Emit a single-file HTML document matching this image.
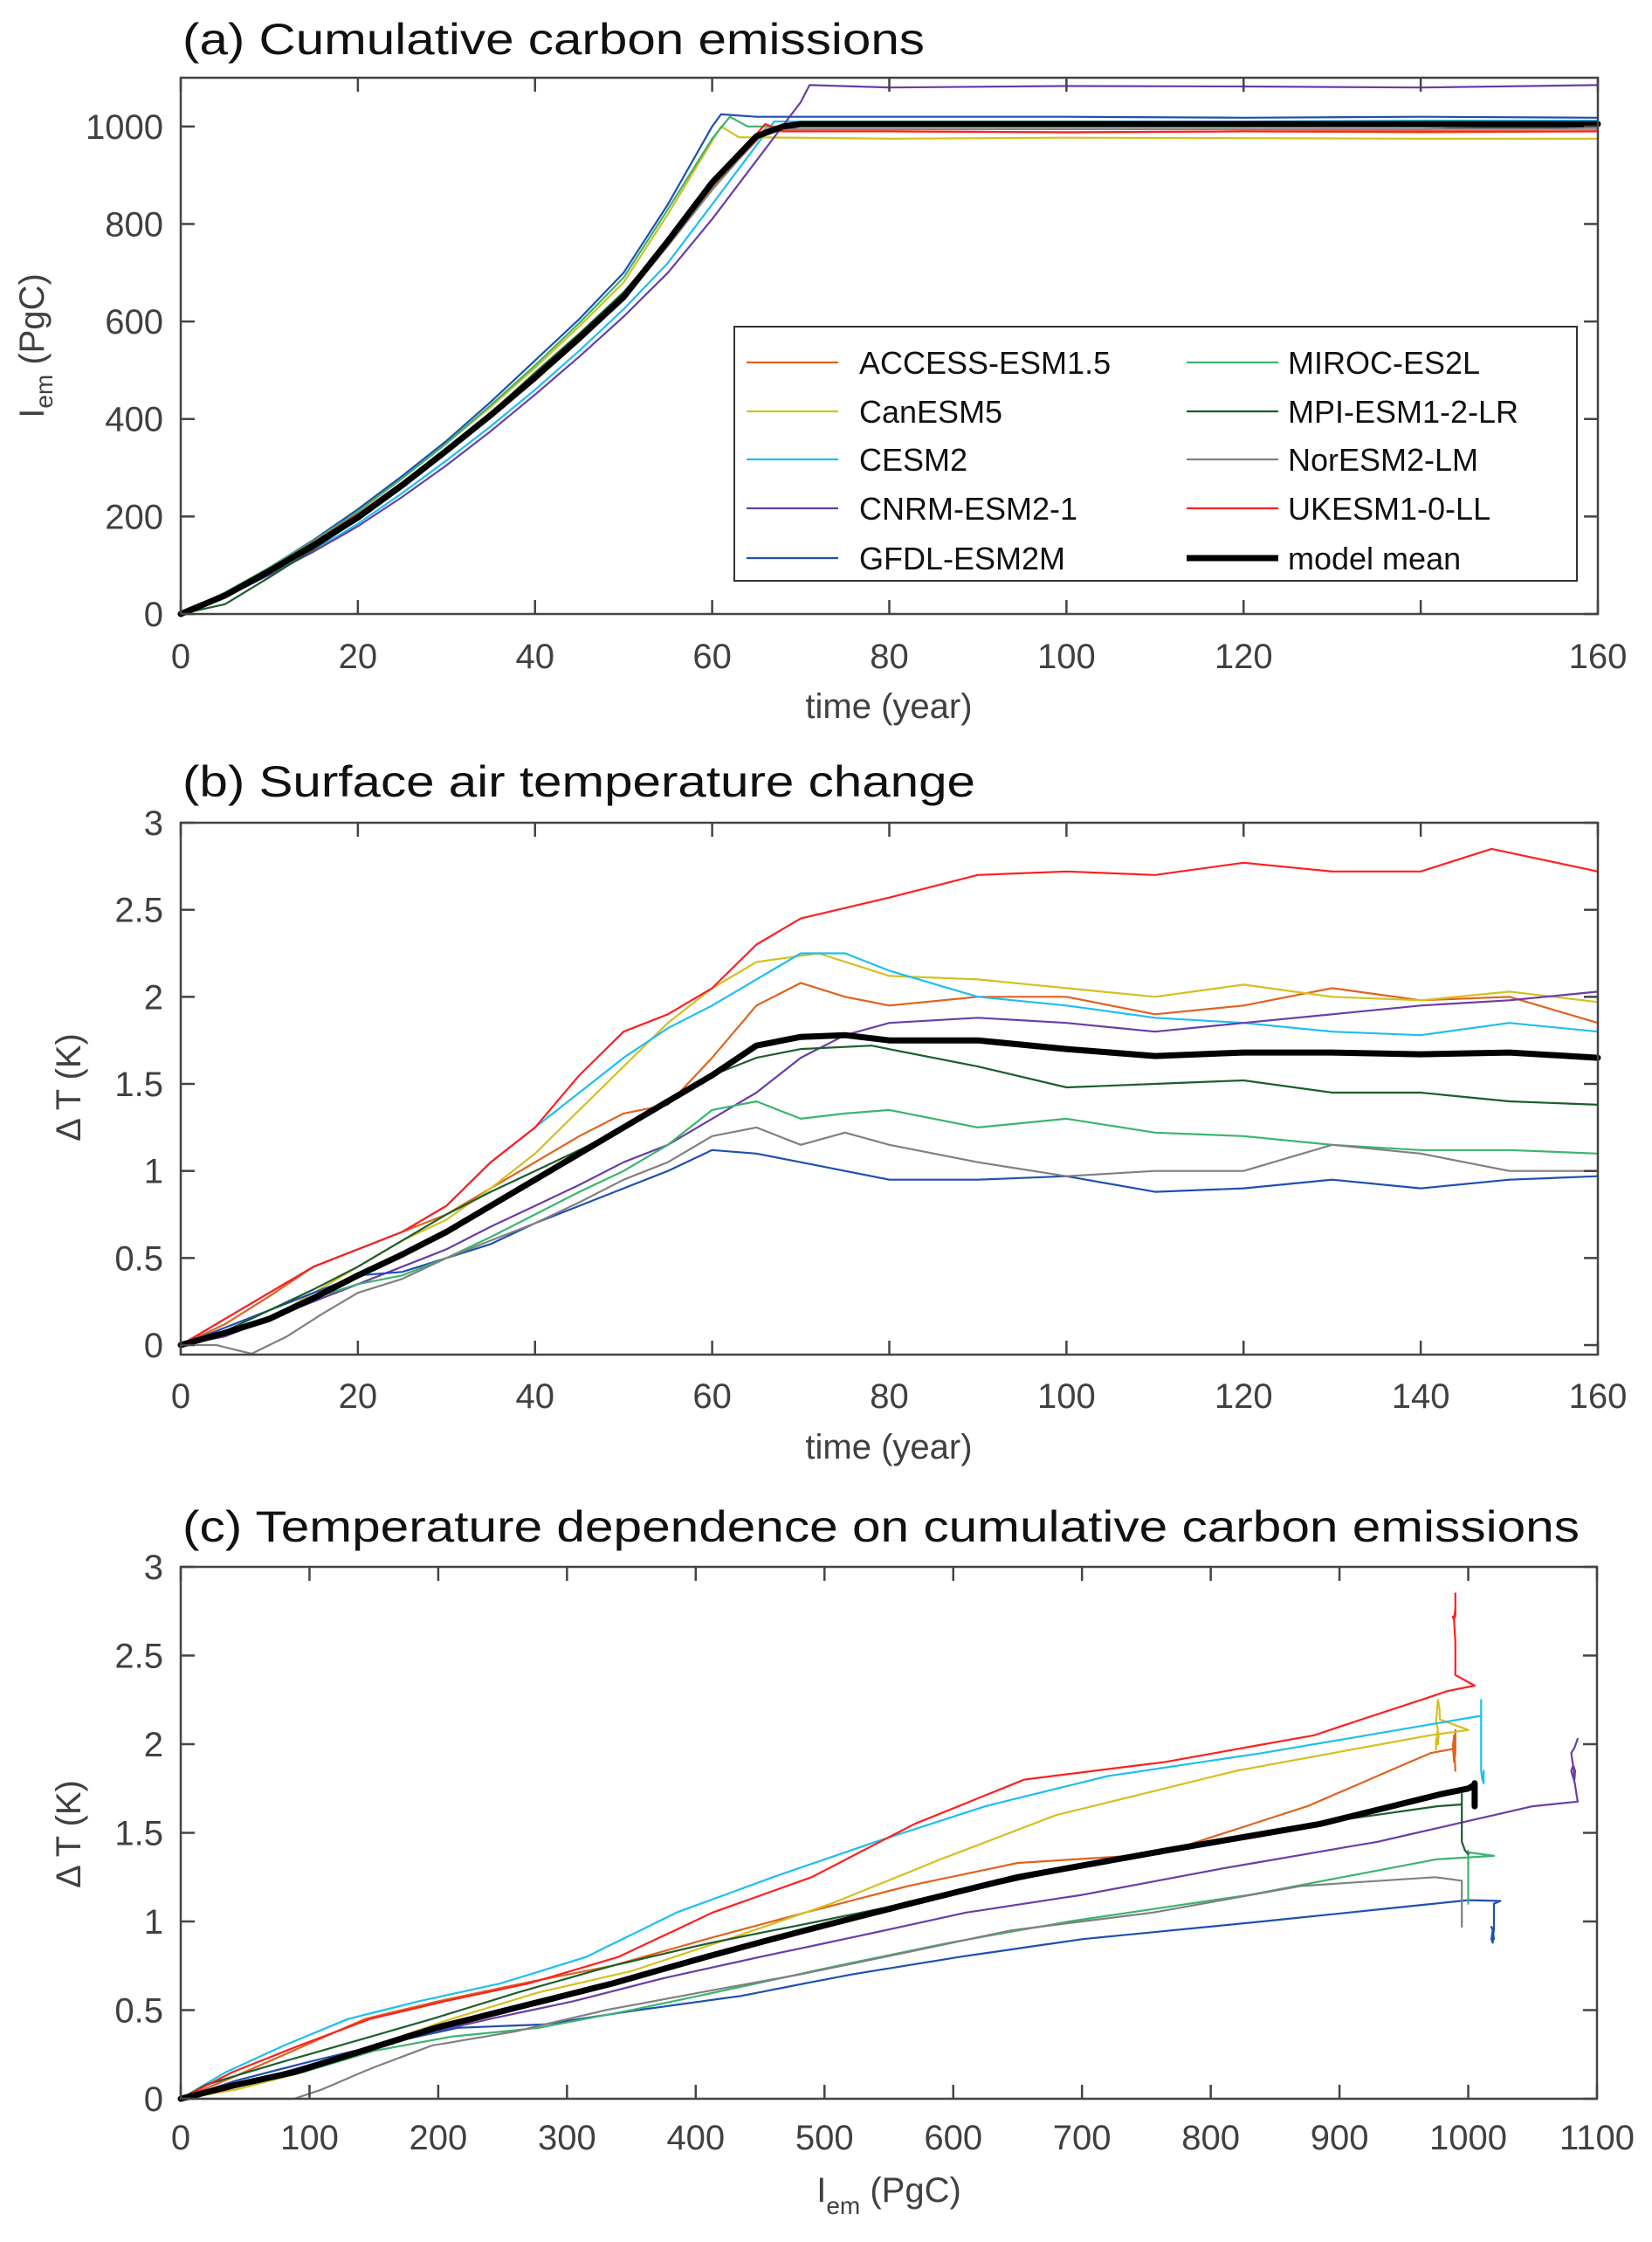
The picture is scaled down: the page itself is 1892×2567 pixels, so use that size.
<!DOCTYPE html>
<html><head><meta charset="utf-8"><style>
html,body{margin:0;padding:0;background:#fff;}
svg{display:block;font-family:"Liberation Sans",sans-serif;}
</style></head><body>
<svg id="fig" width="1892" height="2567" viewBox="0 0 1892 2567" xmlns="http://www.w3.org/2000/svg"></svg>
<script>
const modelNames = ["ACCESS-ESM1.5","CanESM5","CESM2","CNRM-ESM2-1","GFDL-ESM2M","MIROC-ES2L","MPI-ESM1-2-LR","NorESM2-LM","UKESM1-0-LL","model mean"];
const modelColors = ["#e0621e","#d4c020","#1ebef0","#6a3da8","#1f4fb0","#3cb46e","#1b5e2b","#808080","#ff1f1f","#000000"];

// Panel (a): cumulative emissions (PgC)
const emYears = [
 [0,5,10,15,20,25,30,35,40,45,50,55,60,66,80,100,120,140,160],
 [0,5,10,15,20,25,30,35,40,45,50,55,60,61,63,80,100,120,140,160],
 [0,5,10,15,20,25,30,35,40,45,50,55,60,67,80,100,120,140,160],
 [0,5,10,15,20,25,30,35,40,45,50,55,60,65,70,71,80,100,120,140,160],
 [0,5,10,15,20,25,30,35,40,45,50,55,60,61,65,80,100,120,140,160],
 [0,5,10,15,20,25,30,35,40,45,50,55,60,62,64,80,100,120,140,160],
 [0,5,10,15,20,25,30,35,40,45,50,55,60,66,80,100,120,140,160],
 [0,5,10,15,20,25,30,35,40,45,50,55,60,66,80,100,120,140,160],
 [0,5,10,15,20,25,30,35,40,45,50,55,60,66,68,80,100,120,140,160],
 [0,5,10,15,20,25,30,35,40,45,50,55,60,65,68,70,80,160]
];
const emValues = [
 [0,40,90,143,200,265,335,408,485,565,650,760,875,990,990,988,990,988,990],
 [0,42,95,150,210,278,350,425,505,590,680,820,970,1000,978,975,977,976,975,975],
 [0,35,80,130,185,248,315,385,460,540,625,720,840,1010,1010,1010,1010,1012,1012],
 [0,35,80,128,180,240,305,375,450,528,610,700,810,930,1050,1085,1080,1083,1082,1080,1085],
 [0,42,95,152,215,283,355,435,520,605,700,840,1000,1025,1020,1020,1020,1018,1020,1018],
 [0,44,95,150,210,278,350,428,510,597,690,830,975,1020,1000,1000,1000,1000,1000,1000],
 [0,20,75,133,195,262,335,412,495,575,660,765,880,995,995,995,995,995,1000],
 [0,38,88,140,195,260,330,404,480,560,645,755,870,995,995,995,995,995,995],
 [0,40,92,147,205,270,340,413,490,570,655,765,880,1005,990,990,988,990,990,990],
 [0,38,88,141,198,264,335,408,485,566,650,765,885,980,1000,1005,1005,1005]
];

// Panel (b): temperature change (K)
const tYears = [
 [0,5,10,15,20,25,30,35,40,45,50,55,60,65,70,75,80,90,100,110,120,130,140,150,160],
 [0,5,10,15,20,25,30,35,40,45,50,55,60,65,72,80,90,100,110,120,130,140,150,160],
 [0,5,10,15,20,25,30,35,40,45,50,55,60,65,70,75,80,90,100,110,120,130,140,150,160],
 [0,5,10,15,20,25,30,35,40,45,50,55,60,65,70,75,80,90,100,110,120,130,140,150,160],
 [0,5,10,15,20,25,30,35,40,45,50,55,60,65,70,75,80,90,100,110,120,130,140,150,160],
 [0,5,10,15,20,25,30,35,40,45,50,55,60,65,70,75,80,90,100,110,120,130,140,150,160],
 [0,5,10,15,20,25,30,35,40,45,50,55,60,65,70,78,90,100,110,120,130,140,150,160],
 [0,4,8,12,16,20,25,30,35,40,45,50,55,60,65,70,75,80,90,100,110,120,130,140,150,160],
 [0,5,10,15,20,25,30,35,40,45,50,55,60,65,70,80,90,100,110,120,130,140,148,160],
 [0,5,10,15,20,25,30,35,40,45,50,55,60,65,70,75,80,90,100,110,120,130,140,150,160]
];
const tValues = [
 [0,0.12,0.28,0.45,0.55,0.65,0.75,0.9,1.05,1.2,1.33,1.38,1.65,1.95,2.08,2.0,1.95,2.0,2.0,1.9,1.95,2.05,1.98,2.0,1.85],
 [0,0.05,0.15,0.3,0.45,0.6,0.72,0.9,1.1,1.35,1.6,1.85,2.05,2.2,2.25,2.12,2.1,2.05,2.0,2.07,2.0,1.98,2.03,1.97],
 [0,0.15,0.3,0.45,0.55,0.65,0.8,1.05,1.25,1.45,1.65,1.82,1.95,2.1,2.25,2.25,2.15,2.0,1.95,1.88,1.85,1.8,1.78,1.85,1.8],
 [0,0.05,0.15,0.25,0.35,0.45,0.55,0.68,0.8,0.92,1.05,1.15,1.3,1.45,1.65,1.78,1.85,1.88,1.85,1.8,1.85,1.9,1.95,1.98,2.03],
 [0,0.1,0.2,0.3,0.4,0.42,0.5,0.58,0.7,0.8,0.9,1.0,1.12,1.1,1.05,1.0,0.95,0.95,0.97,0.88,0.9,0.95,0.9,0.95,0.97],
 [0,0.08,0.15,0.27,0.35,0.4,0.5,0.62,0.75,0.88,1.0,1.15,1.35,1.4,1.3,1.33,1.35,1.25,1.3,1.22,1.2,1.15,1.12,1.12,1.1],
 [0,0.08,0.2,0.32,0.45,0.6,0.75,0.88,1.0,1.12,1.25,1.4,1.55,1.65,1.7,1.72,1.6,1.48,1.5,1.52,1.45,1.45,1.4,1.38],
 [0,0.0,-0.05,0.05,0.18,0.3,0.38,0.5,0.6,0.7,0.82,0.95,1.05,1.2,1.25,1.15,1.22,1.15,1.05,0.97,1.0,1.0,1.15,1.1,1.0,1.0],
 [0,0.15,0.3,0.45,0.55,0.65,0.8,1.05,1.25,1.55,1.8,1.9,2.05,2.3,2.45,2.57,2.7,2.72,2.7,2.77,2.72,2.72,2.85,2.72],
 [0,0.07,0.15,0.27,0.4,0.52,0.65,0.8,0.95,1.1,1.25,1.4,1.55,1.72,1.77,1.78,1.75,1.75,1.7,1.66,1.68,1.68,1.67,1.68,1.65]
];

const aTicksX=[0,20,40,60,80,100,120,140,160];
const aTickLabelsX=["0","20","40","60","80","100","120","","160"];
const aTicksY=[0,200,400,600,800,1000];
const bTicksY=[0,0.5,1,1.5,2,2.5,3];
const bTickLabelsY=["0","0.5","1","1.5","2","2.5","3"];
const bTickLabelsX=["0","20","40","60","80","100","120","140","160"];
const cTicksX=[0,100,200,300,400,500,600,700,800,900,1000,1100];

const NS="http://www.w3.org/2000/svg";
const svg=document.getElementById('fig');
function mk(tag,attrs,parent){const e=document.createElementNS(NS,tag);for(const k in attrs)e.setAttribute(k,attrs[k]);(parent||svg).appendChild(e);return e;}
function interp(xs,ys,x){if(x<=xs[0])return ys[0];for(let i=1;i<xs.length;i++){if(x<=xs[i]){const t=(x-xs[i-1])/(xs[i]-xs[i-1]);return ys[i-1]+t*(ys[i]-ys[i-1]);}}return ys[ys.length-1];}

function makeAxes(o){
  const sx=v=>o.L+(v-o.x0)/(o.x1-o.x0)*(o.R-o.L);
  const sy=v=>o.B-(v-o.y0)/(o.y1-o.y0)*(o.B-o.T);
  const g=mk('g',{});
  
  
  const t=mk('text',{x:o.L+2,y:o.titleY,'font-size':50,fill:'#111',textLength:o.titleW,lengthAdjust:'spacingAndGlyphs'},g);
  t.textContent=o.title;
  
  
  return {sx,sy,g};
}
function finishAxes(o,ax){
  const g=ax.g;
  const box=mk('rect',{x:o.L,y:o.T,width:o.R-o.L,height:o.B-o.T,fill:'none',stroke:'#444','stroke-width':2.5},g);
  
  
  o.xt.forEach((v,i)=>{
    const x=ax.sx(v);
    mk('line',{x1:x,x2:x,y1:o.B,y2:o.B-16,stroke:'#444','stroke-width':2.5},g);
    mk('line',{x1:x,x2:x,y1:o.T,y2:o.T+16,stroke:'#444','stroke-width':2.5},g);
    const tl=mk('text',{x:x,y:o.xLabY,'text-anchor':'middle','font-size':40,fill:'#404040'},g);
    tl.textContent=o.xl[i];
    
    
  });
  o.yt.forEach((v,i)=>{
    const y=ax.sy(v);
    mk('line',{x1:o.L,x2:o.L+16,y1:y,y2:y,stroke:'#444','stroke-width':2.5},g);
    mk('line',{x1:o.R,x2:o.R-16,y1:y,y2:y,stroke:'#444','stroke-width':2.5},g);
    const tl=mk('text',{x:o.L-20,y:y+14,'text-anchor':'end','font-size':40,fill:'#404040'},g);
    tl.textContent=o.yl[i];
    
    
  });
}
function line(g,pts,color,w,name){
  const p=mk('polyline',{points:pts.map(q=>q[0].toFixed(1)+','+q[1].toFixed(1)).join(' '),fill:'none',stroke:color,'stroke-width':w,'stroke-linejoin':'round','stroke-linecap':'round'},g);
  
  
}
function xlabel(g,x,y,txt,name){
  const t=mk('text',{x:x,y:y,'text-anchor':'middle','font-size':40,fill:'#404040'},g);
  
  
  t.innerHTML=txt;
}

// Panel a
const oa={name:'panel-a',L:207,R:1830,T:89,B:703,x0:0,x1:160,y0:0,y1:1100,title:'(a) Cumulative carbon emissions',titleY:62,titleW:850,xt:aTicksX,xl:aTickLabelsX,yt:aTicksY,yl:aTicksY.map(String),xLabY:765};
const axA=makeAxes(oa);
for(let m=0;m<10;m++){
  const pts=emYears[m].map((y,i)=>[axA.sx(y),axA.sy(emValues[m][i])]);
  line(axA.g,pts,modelColors[m],m===9?7:2.2,'emission-line-'+modelNames[m].toLowerCase());
}
finishAxes(oa,axA);
xlabel(axA.g,1018,822,'time (year)','x-axis-title');
{const t=mk('text',{x:0,y:0,'font-size':40,fill:'#404040','text-anchor':'middle',transform:'translate(50,396) rotate(-90)'},axA.g);
 
 t.innerHTML='I<tspan font-size="28" dy="10">em</tspan><tspan dy="-10"> (PgC)</tspan>';}
// legend
{const lg=mk('g',{},axA.g);
 
 mk('rect',{x:841,y:374,width:965,height:291,fill:'#fff',stroke:'#333','stroke-width':2},lg);
 const rows=[415,471,526,582,639];
 for(let m=0;m<10;m++){
   const col=m<5?0:1,r=m%5;
   const lx=col?1359:855, tx=col?1475:984, y=rows[r];
   const e=mk('g',{},lg);
   
   mk('line',{x1:lx,x2:lx+105,y1:y,y2:y,stroke:modelColors[m],'stroke-width':m===9?7:2.2},e);
   const t=mk('text',{x:tx,y:y+13,'font-size':36,fill:'#111'},e);t.textContent=modelNames[m];
 }}

// Panel b
const ob={name:'panel-b',L:207,R:1830,T:942,B:1551,x0:0,x1:160,y0:-0.055,y1:3,title:'(b) Surface air temperature change',titleY:912,titleW:908,xt:aTicksX,xl:bTickLabelsX,yt:bTicksY,yl:bTickLabelsY,xLabY:1612};
const axB=makeAxes(ob);
for(let m=0;m<10;m++){
  const pts=tYears[m].map((y,i)=>[axB.sx(y),axB.sy(tValues[m][i])]);
  line(axB.g,pts,modelColors[m],m===9?7:2.2,'temperature-line-'+modelNames[m].toLowerCase());
}
finishAxes(ob,axB);
xlabel(axB.g,1018,1670,'time (year)','x-axis-title');
{const t=mk('text',{x:0,y:0,'font-size':40,fill:'#404040','text-anchor':'middle',transform:'translate(92,1245) rotate(-90)'},axB.g);
 t.textContent='Δ T (K)';}

// Panel c (derived from a and b)
const oc={name:'panel-c',L:207,R:1829,T:1794,B:2403,x0:0,x1:1100,y0:0,y1:3,title:'(c) Temperature dependence on cumulative carbon emissions',titleY:1765,titleW:1600,xt:cTicksX,xl:cTicksX.map(String),yt:bTicksY,yl:bTickLabelsY,xLabY:2461};
const axC=makeAxes(oc);
for(let m=0;m<10;m++){
  const pts=[];
  for(let yr=0;yr<=160;yr++){pts.push([axC.sx(interp(emYears[m],emValues[m],yr)),axC.sy(Math.max(0,interp(tYears[m],tValues[m],yr)))]);}
  line(axC.g,pts,modelColors[m],m===9?7:2.2,'tcre-line-'+modelNames[m].toLowerCase());
}
finishAxes(oc,axC);
{const t=mk('text',{x:1018,y:2521,'font-size':40,fill:'#404040','text-anchor':'middle'},axC.g);
 
 t.innerHTML='I<tspan font-size="28" dy="14">em</tspan><tspan dy="-14"> (PgC)</tspan>';}
{const t=mk('text',{x:0,y:0,'font-size':40,fill:'#404040','text-anchor':'middle',transform:'translate(92,2100) rotate(-90)'},axC.g);
 t.textContent='Δ T (K)';}
</script>
</body></html>
